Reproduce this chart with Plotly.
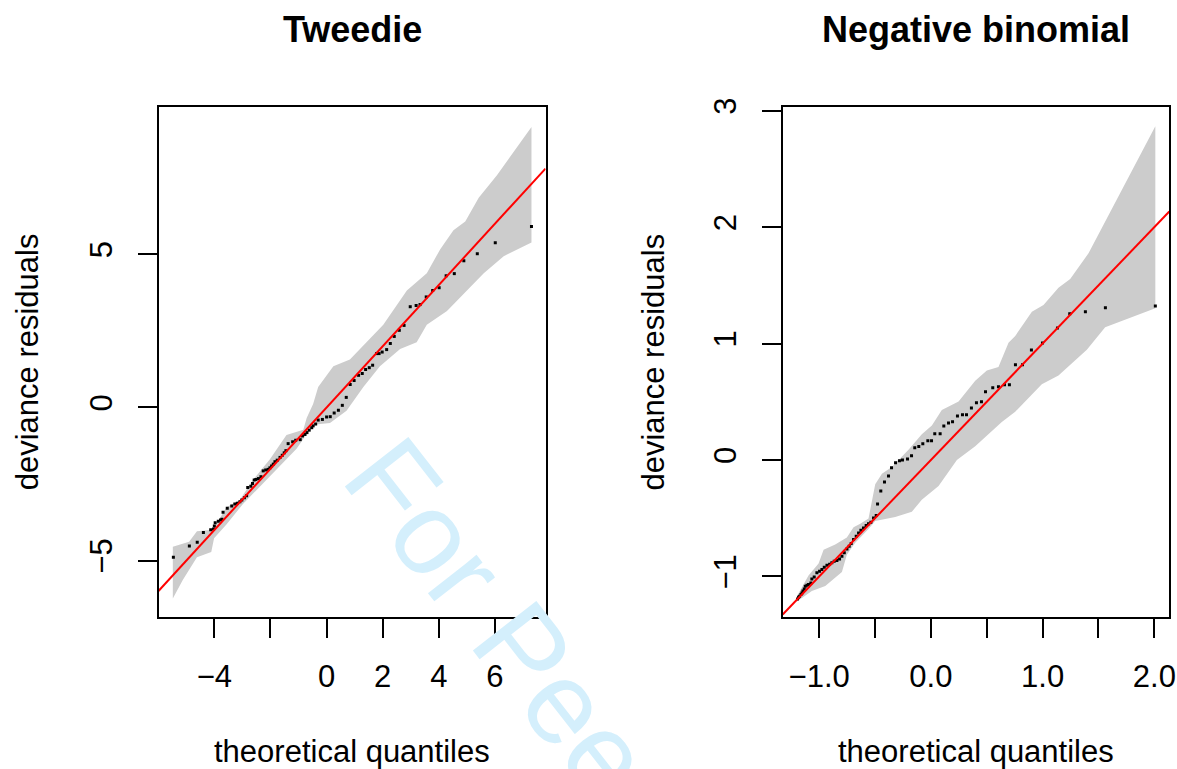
import plotly.graph_objects as go

# ---------------- data ----------------
titles = ["Tweedie", "Negative binomial"]
x_title = "theoretical quantiles"
y_title = "deviance residuals"

# Tweedie panel: theoretical quantiles vs deviance residuals
tw_x = [-5.46, -4.89, -4.61, -4.39, -4.13, -4.03, -4.00, -3.97, -3.86, -3.78,
        -3.73, -3.69, -3.54, -3.38, -3.27, -3.18, -3.09, -3.02, -2.93, -2.85,
        -2.81, -2.70, -2.64, -2.58, -2.52, -2.43, -2.34, -2.26, -2.17, -2.08,
        -2.02, -1.96, -1.90, -1.84, -1.76, -1.66, -1.58, -1.51, -1.45, -1.37,
        -1.21, -1.10, -0.94, -0.86, -0.77, -0.70, -0.62, -0.53, -0.48, -0.39,
        -0.30, -0.15, 0.00, 0.13, 0.27, 0.42, 0.56, 0.70, 0.84, 0.98,
        1.14, 1.27, 1.39, 1.52, 1.64, 1.78, 1.87, 1.98, 2.14, 2.27,
        2.41, 2.59, 2.76, 2.98, 3.19, 3.33, 3.55, 3.78, 4.01, 4.26,
        4.55, 4.89, 5.37, 6.01, 7.30]
tw_y = [-4.89, -4.52, -4.40, -4.08, -3.99, -3.97, -3.87, -3.76, -3.71, -3.67,
        -3.65, -3.42, -3.29, -3.22, -3.15, -3.13, -3.08, -3.02, -2.95, -2.88,
        -2.61, -2.57, -2.48, -2.37, -2.35, -2.32, -2.26, -2.07, -2.04, -2.02,
        -1.97, -1.91, -1.85, -1.77, -1.72, -1.63, -1.56, -1.48, -1.41, -1.18,
        -1.12, -1.07, -1.05, -0.93, -0.88, -0.82, -0.74, -0.66, -0.60, -0.54,
        -0.41, -0.39, -0.31, -0.30, -0.18, -0.09, 0.07, 0.33, 0.75, 0.88,
        1.05, 1.11, 1.24, 1.30, 1.38, 1.76, 1.76, 1.81, 1.89, 2.09,
        2.32, 2.52, 2.68, 3.29, 3.33, 3.36, 3.61, 3.82, 3.91, 4.30,
        4.37, 4.79, 5.02, 5.38, 5.91]
# simulation envelope (Tweedie)
tw_up_x = [-5.48, -4.90, -4.62, -4.05, -3.57, -3.10, -2.62, -2.02, -1.43, -0.83,
           -0.71, -0.48, -0.30, 0.24, 0.83, 1.55, 2.02, 2.86, 3.57, 4.05,
           4.52, 4.94, 5.42, 6.07, 7.30]
tw_up_y = [-4.55, -4.38, -4.04, -3.99, -3.26, -3.03, -2.36, -1.69, -0.90, -0.73,
           -0.34, 0.11, 0.67, 1.35, 1.57, 2.25, 2.70, 3.82, 4.38, 5.17,
           5.79, 6.07, 6.85, 7.58, 9.16]
tw_lo_x = [-5.48, -5.12, -4.62, -4.11, -4.01, -3.57, -2.98, -2.38, -1.67, -1.07,
           -0.48, 0.12, 0.71, 1.31, 1.90, 2.62, 3.21, 3.57, 4.29, 4.88,
           5.60, 6.31, 7.30]
tw_lo_y = [-6.24, -5.62, -4.89, -4.72, -4.27, -3.82, -3.15, -2.58, -1.91, -1.35,
           -0.56, -0.51, -0.11, 0.67, 1.35, 1.91, 2.13, 2.70, 3.15, 3.71,
           4.38, 4.94, 5.39]

# Negative binomial panel
nb_x = [-1.193, -1.184, -1.175, -1.163, -1.154, -1.145, -1.133, -1.124, -1.109, -1.095,
        -1.074, -1.065, -1.044, -1.020, -0.996, -0.975, -0.954, -0.930, -0.906, -0.886,
        -0.865, -0.841, -0.817, -0.796, -0.775, -0.751, -0.731, -0.713, -0.692, -0.668,
        -0.647, -0.626, -0.603, -0.579, -0.558, -0.537, -0.513, -0.489, -0.477, -0.448,
        -0.415, -0.379, -0.352, -0.316, -0.281, -0.254, -0.209, -0.173, -0.144, -0.108,
        -0.072, -0.027, 0.006, 0.035, 0.083, 0.116, 0.158, 0.194, 0.238, 0.283,
        0.319, 0.363, 0.408, 0.453, 0.489, 0.554, 0.605, 0.659, 0.703, 0.757,
        0.820, 0.900, 0.999, 1.133, 1.243, 1.383, 1.562, 2.009]
nb_y = [-1.193, -1.178, -1.170, -1.155, -1.141, -1.124, -1.107, -1.084, -1.075, -1.069,
        -1.055, -1.021, -1.004, -0.969, -0.955, -0.941, -0.921, -0.904, -0.895, -0.883,
        -0.869, -0.863, -0.849, -0.826, -0.797, -0.763, -0.740, -0.717, -0.683, -0.654,
        -0.626, -0.603, -0.583, -0.563, -0.548, -0.534, -0.497, -0.477, -0.377, -0.265,
        -0.188, -0.136, -0.067, -0.024, -0.007, 0.001, 0.010, 0.036, 0.105, 0.116,
        0.139, 0.165, 0.165, 0.225, 0.225, 0.293, 0.319, 0.328, 0.379, 0.388,
        0.388, 0.448, 0.491, 0.500, 0.586, 0.620, 0.629, 0.646, 0.646, 0.818,
        0.818, 0.946, 1.006, 1.135, 1.256, 1.273, 1.307, 1.324]
nb_up_x = [-1.199, -1.095, -1.005, -0.960, -0.856, -0.752, -0.692, -0.632, -0.558, -0.498,
           -0.438, -0.349, -0.200, -0.081, 0.009, 0.098, 0.248, 0.397, 0.501, 0.605,
           0.695, 0.755, 0.904, 1.008, 1.142, 1.247, 1.411, 1.590, 2.009]
nb_up_y = [-1.169, -0.992, -0.888, -0.770, -0.725, -0.666, -0.577, -0.548, -0.503, -0.207,
           -0.118, -0.059, 0.089, 0.222, 0.296, 0.429, 0.503, 0.681, 0.770, 0.799,
           1.007, 1.066, 1.273, 1.332, 1.480, 1.554, 1.776, 2.102, 2.866]
nb_lo_x = [-1.199, -1.065, -0.945, -0.796, -0.752, -0.677, -0.558, -0.498, -0.319, -0.170,
           -0.081, 0.069, 0.158, 0.233, 0.397, 0.635, 0.755, 0.993, 1.142, 1.396,
           1.560, 2.009]
nb_lo_y = [-1.214, -1.125, -1.081, -0.962, -0.814, -0.711, -0.592, -0.524, -0.489, -0.444,
           -0.340, -0.222, -0.104, 0.000, 0.118, 0.326, 0.415, 0.651, 0.725, 0.947,
           1.140, 1.303]

# reference line y = a + b*x
ref_intercept = 0.0
ref_slope = 1.0

# axes
tw_xrange = [-5.99, 7.80]
tw_yrange = [-6.84, 9.81]
nb_xrange = [-1.326, 2.134]
nb_yrange = [-1.348, 3.032]
tw_xticks = [-4, -2, 0, 2, 4, 6]
tw_xlabels = ["\u22124", "", "0", "2", "4", "6"]
tw_yticks = [-5, 0, 5]
tw_ylabels = ["\u22125", "0", "5"]
nb_xticks = [-1.0, -0.5, 0.0, 0.5, 1.0, 1.5, 2.0]
nb_xlabels = ["\u22121.0", "", "0.0", "", "1.0", "", "2.0"]
nb_yticks = [-1, 0, 1, 2, 3]
nb_ylabels = ["\u22121", "0", "1", "2", "3"]

watermark = "For Peer Review"

# ---------------- figure ----------------
W, H = 1177, 769
FONT = "Liberation Sans, Arial, Helvetica, sans-serif"
GREY = "#cccccc"

fig = go.Figure()

panels = [
    ("x", "y", tw_x, tw_y, tw_up_x, tw_up_y, tw_lo_x, tw_lo_y, tw_xrange),
    ("x2", "y2", nb_x, nb_y, nb_up_x, nb_up_y, nb_lo_x, nb_lo_y, nb_xrange),
]
for xa, ya, px, py, ux, uy, lx, ly, xr in panels:
    fig.add_trace(go.Scatter(
        x=ux + lx[::-1], y=uy + ly[::-1], xaxis=xa, yaxis=ya,
        mode="lines", fill="toself", fillcolor=GREY,
        line=dict(width=0, color=GREY), hoverinfo="skip", showlegend=False))
    fig.add_trace(go.Scatter(
        x=px, y=py, xaxis=xa, yaxis=ya, mode="markers",
        marker=dict(symbol="square", size=3, color="black", line=dict(width=0)),
        showlegend=False))
    lx_end = [xr[0], xr[1]]
    fig.add_trace(go.Scatter(
        x=lx_end, y=[ref_intercept + ref_slope * v for v in lx_end],
        xaxis=xa, yaxis=ya, mode="lines",
        line=dict(color="red", width=2), showlegend=False))

tick_font = dict(family=FONT, size=31, color="black")
common = dict(showgrid=False, zeroline=False, showline=True, mirror=True,
              linecolor="black", linewidth=2, ticks="outside", ticklen=19,
              tickwidth=2, tickcolor="black", tickfont=tick_font,
              automargin=False, fixedrange=True)

ydom = [1 - 617 / H, 1 - 107 / H]
fig.update_layout(
    width=W, height=H, template="none",
    margin=dict(l=0, r=0, t=0, b=0),
    paper_bgcolor="white", plot_bgcolor="white",
    showlegend=False,
    xaxis=dict(domain=[158.5 / W, 545.5 / W], range=tw_xrange, anchor="y",
               tickmode="array", tickvals=tw_xticks, ticktext=tw_xlabels,
               ticklabelstandoff=12, **common),
    yaxis=dict(domain=ydom, range=tw_yrange, anchor="x",
               tickmode="array", tickvals=tw_yticks, ticktext=tw_ylabels,
               tickangle=-90, ticklabelstandoff=13, **common),
    xaxis2=dict(domain=[782.7 / W, 1169.3 / W], range=nb_xrange, anchor="y2",
                tickmode="array", tickvals=nb_xticks, ticktext=nb_xlabels,
                ticklabelstandoff=12, **common),
    yaxis2=dict(domain=ydom, range=nb_yrange, anchor="x2",
                tickmode="array", tickvals=nb_yticks, ticktext=nb_ylabels,
                tickangle=-90, ticklabelstandoff=13, **common),
)

ann = []
# panel titles
for t, cx in zip(titles, [352.0, 976.0]):
    ann.append(dict(text="<b>%s</b>" % t, x=cx / W, y=1 - 29.5 / H,
                    xref="paper", yref="paper", showarrow=False,
                    xanchor="center", yanchor="middle",
                    font=dict(family=FONT, size=36, color="black")))
# axis titles
for cx in [352.0, 976.0]:
    ann.append(dict(text=x_title, x=cx / W, y=1 - 751.5 / H,
                    xref="paper", yref="paper", showarrow=False,
                    xanchor="center", yanchor="middle",
                    font=dict(family=FONT, size=31, color="black")))
for cx in [27.3, 652.6]:
    ann.append(dict(text=y_title, x=cx / W, y=1 - 362 / H,
                    xref="paper", yref="paper", showarrow=False,
                    xanchor="center", yanchor="middle", textangle=-90,
                    font=dict(family=FONT, size=31, color="black")))
# watermark (cut by the page edge, as in the reference)
ann.append(dict(text=watermark, x=639 / W, y=1 - 798 / H,
                xref="paper", yref="paper", showarrow=False,
                xanchor="center", yanchor="middle", textangle=52,
                font=dict(family=FONT, size=117, color="rgb(212,239,252)")))
fig.update_layout(annotations=ann)

fig.write_html("out.html")
